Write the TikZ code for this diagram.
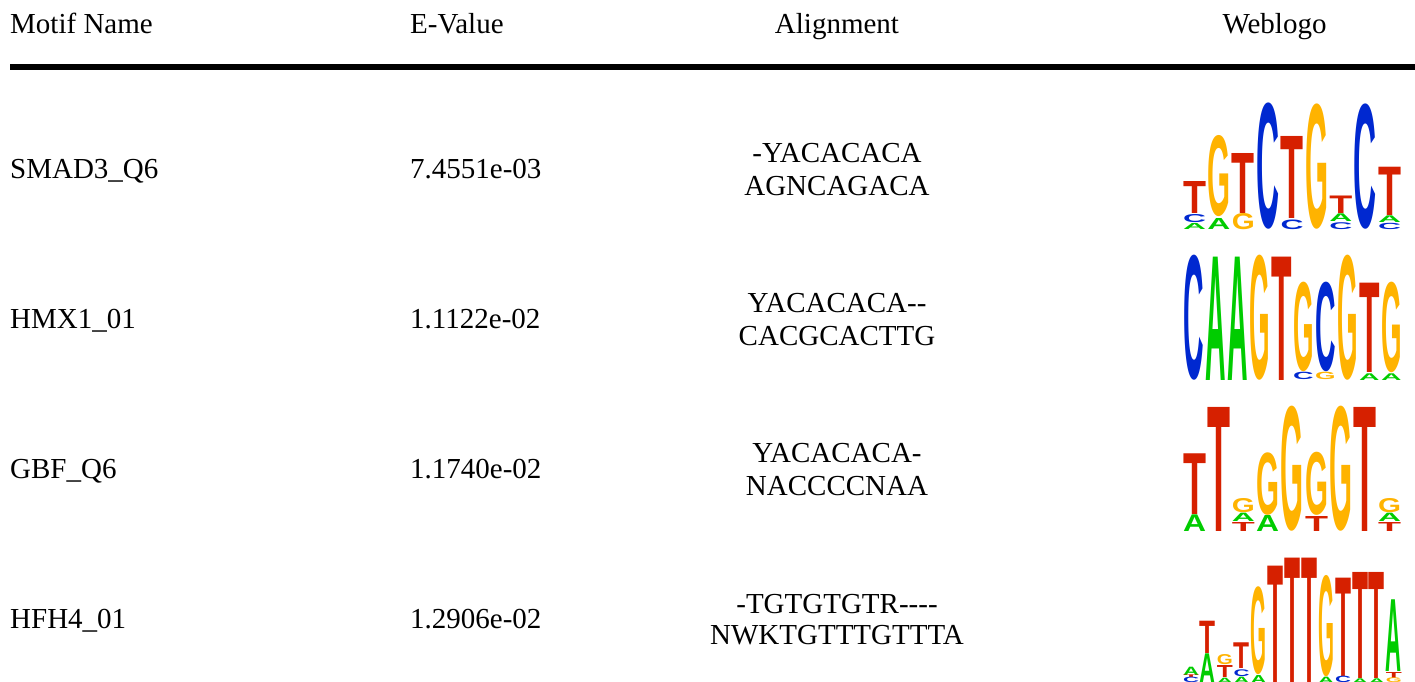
\documentclass[tikz,border=0pt]{standalone}
\usepackage{fontspec}
\usepackage{graphicx}
\setmainfont{Liberation Serif}
\newfontfamily\logofont{Liberation Sans}
\definecolor{wlA}{RGB}{0,204,0}
\definecolor{wlC}{RGB}{0,40,208}
\definecolor{wlG}{RGB}{255,179,0}
\definecolor{wlT}{RGB}{214,32,0}
\tikzset{
  txt/.style={inner sep=0pt, font=\fontsize{29}{34}\selectfont},
  wlletter/.style={anchor=south west, inner sep=0pt, outer sep=0pt}
}
% one letter of a logo: name, x, bottom y, height, letter
\newcommand{\wl}[5]{\node[wlletter, text=wl#5] (#1) at (#2,#3) {\resizebox{\wlw pt}{#4pt}{\logofont\bfseries #5}};}
\def\wlw{23}
\begin{document}
\begin{tikzpicture}[x=1pt,y=-1pt]
      \path[fill=white, use as bounding box] (0,0) rectangle (1415,681);

      \node [txt, anchor=base west] (hname) at (10,33.3) {Motif Name};
      \node [txt, anchor=base west] (hval) at (410,33.3) {E-Value};
      \node [txt, anchor=base] (halign) at (837,33.3) {Alignment};
      \node [txt, anchor=base] (hlogo) at (1274.5,33.3) {Weblogo};
      \coordinate (rulel) at (10,67);
      \coordinate (ruler) at (1415,67);
      \draw [line width=6pt] (rulel) -- (ruler);

      \node [txt, anchor=base west] (n1) at (10,178.5) {SMAD3\_Q6};
      \node [txt, anchor=base west] (v1) at (410,178.5) {7.4551e-03};
      \node [txt, anchor=base] (a1) at (837,162) {-YACACACA};
      \node [txt, anchor=base] (b1) at (837,195) {AGNCAGACA};

      \node [txt, anchor=base west] (n2) at (10,328.5) {HMX1\_01};
      \node [txt, anchor=base west] (v2) at (410,328.5) {1.1122e-02};
      \node [txt, anchor=base] (a2) at (837,312.5) {YACACACA-{}-};
      \node [txt, anchor=base] (b2) at (837,345) {CACGCACTTG};

      \node [txt, anchor=base west] (n3) at (10,478.5) {GBF\_Q6};
      \node [txt, anchor=base west] (v3) at (410,478.5) {1.1740e-02};
      \node [txt, anchor=base] (a3) at (837,462.5) {YACACACA-};
      \node [txt, anchor=base] (b3) at (837,495) {NACCCCNAA};

      \node [txt, anchor=base west] (n4) at (10,628.5) {HFH4\_01};
      \node [txt, anchor=base west] (v4) at (410,628.5) {1.2906e-02};
      \node [txt, anchor=base] (a4) at (837,613) {-TGTGTGTR-{}-{}-{}-};
      \node [txt, anchor=base] (b4) at (837,644) {NWKTGTTTGTTTA};

      \def\wlw{23}
      \wl{s1t}{1183}{213}{32}{T} \wl{s1c}{1183}{222.8}{8}{C} \wl{s1a}{1183}{229.5}{6}{A}
      \wl{s2g}{1207.4}{217}{80}{G} \wl{s2a}{1207.4}{229.5}{11}{A}
      \wl{s3t}{1231.8}{213}{60}{T} \wl{s3g}{1231.8}{229.5}{16}{G}
      \wl{s4c}{1256.2}{229.5}{124.5}{C}
      \wl{s5t}{1280.6}{218.5}{82}{T} \wl{s5c}{1280.6}{229.5}{9.5}{C}
      \wl{s6g}{1305}{229.5}{123.5}{G}
      \wl{s7t}{1329.4}{213.5}{17.5}{T} \wl{s7a}{1329.4}{221.7}{7.7}{A} \wl{s7c}{1329.4}{229.5}{6.8}{C}
      \wl{s8c}{1353.8}{229.5}{123.5}{C}
      \wl{s9t}{1378.2}{215}{48.3}{T} \wl{s9a}{1378.2}{222.7}{6.7}{A} \wl{s9c}{1378.2}{229.5}{6.2}{C}

      \def\wlw{20.5}
      \wl{h1c}{1183}{380}{123.3}{C}
      \wl{h2a}{1205}{380}{123.3}{A}
      \wl{h3a}{1227}{380}{123.3}{A}
      \wl{h4g}{1249}{380}{123.3}{G}
      \wl{h5t}{1271}{380}{123.3}{T}
      \wl{h6g}{1293}{371.7}{88.3}{G} \wl{h6c}{1293}{380}{7.3}{C}
      \wl{h7c}{1315}{371.7}{88.3}{C} \wl{h7g}{1315}{380}{7.3}{G}
      \wl{h8g}{1337}{380}{123.3}{G}
      \wl{h9t}{1359}{372.7}{89.3}{T} \wl{h9a}{1359}{380}{6.7}{A}
      \wl{h10g}{1381}{372.7}{89.3}{G} \wl{h10a}{1381}{380}{6.7}{A}

      \def\wlw{23}
      \wl{g1t}{1183}{514}{60.7}{T} \wl{g1a}{1183}{531.7}{16.7}{A}
      \wl{g2t}{1207.4}{531.7}{124}{T}
      \wl{g3g}{1231.8}{512.3}{14}{G} \wl{g3a}{1231.8}{521.7}{8.3}{A} \wl{g3t}{1231.8}{531.7}{9}{T}
      \wl{g4g}{1256.2}{515}{61.7}{G} \wl{g4a}{1256.2}{531.7}{16}{A}
      \wl{g5g}{1280.6}{531.7}{123.3}{G}
      \wl{g6g}{1305}{515.7}{62.3}{G} \wl{g6t}{1305}{531.7}{15}{T}
      \wl{g7g}{1329.4}{531.7}{123.3}{G}
      \wl{g8t}{1353.8}{531.7}{124}{T}
      \wl{g9g}{1378.2}{512.3}{14}{G} \wl{g9a}{1378.2}{521.7}{8.3}{A} \wl{g9t}{1378.2}{531.7}{9}{T}

      \def\wlw{16}
      \wl{f1a}{1183}{675}{8.3}{A} \wl{f1t}{1183}{677.7}{2.7}{T} \wl{f1c}{1183}{683}{5.3}{C}
      \wl{f2t}{1199.9}{653.3}{32.3}{T} \wl{f2a}{1199.9}{683}{29.7}{A}
      \wl{f3g}{1216.8}{665}{10}{G} \wl{f3t}{1216.8}{677.7}{12}{T} \wl{f3a}{1216.8}{683}{5.3}{A}
      \wl{f4t}{1233.7}{668.3}{25.7}{T} \wl{f4c}{1233.7}{676.7}{6.7}{C} \wl{f4a}{1233.7}{683}{6.3}{A}
      \wl{f5g}{1250.6}{675}{86.7}{G} \wl{f5a}{1250.6}{683}{8}{A}
      \wl{f6t}{1267.5}{683}{117.3}{T}
      \wl{f7t}{1284.4}{683}{125.3}{T}
      \wl{f8t}{1301.3}{683}{125.3}{T}
      \wl{f9g}{1318.2}{676.7}{100}{G} \wl{f9a}{1318.2}{683}{6.3}{A}
      \wl{f10t}{1335.1}{676.7}{98.3}{T} \wl{f10c}{1335.1}{683}{6.3}{C}
      \wl{f11t}{1352}{678.3}{106}{T} \wl{f11a}{1352}{683}{4.7}{A}
      \wl{f12t}{1368.9}{678.3}{106}{T} \wl{f12a}{1368.9}{683}{4.7}{A}
      \wl{f13a}{1385.8}{671.7}{71.7}{A} \wl{f13t}{1385.8}{678.3}{6}{T} \wl{f13g}{1385.8}{683}{4.7}{G}
    \end{tikzpicture}
\end{document}
